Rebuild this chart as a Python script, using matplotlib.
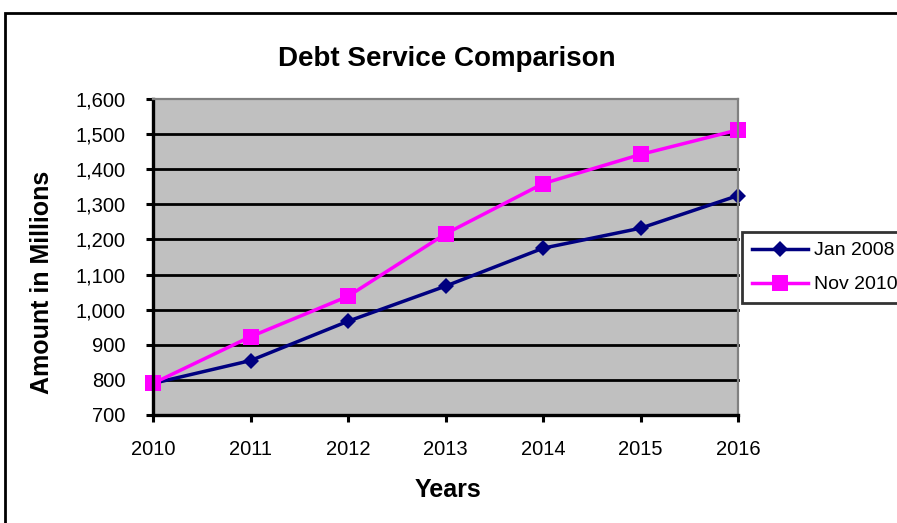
#!/usr/bin/env python3
"""Debt service comparison line chart: Jan 2008 vs Nov 2010 projections."""

import matplotlib
matplotlib.use("Agg")
import matplotlib.pyplot as plt
from matplotlib.patches import Rectangle
from matplotlib.ticker import FuncFormatter

plt.rcParams['font.family'] = ['Liberation Sans', 'DejaVu Sans']

# Amounts in millions
years = [2010, 2011, 2012, 2013, 2014, 2015, 2016]
jan_2008 = [790, 855, 967, 1067, 1175, 1232, 1325]
nov_2010 = [790, 923, 1038, 1216, 1359, 1442, 1512]

y_ticks = list(range(700, 1601, 100))

NAVY = '#000080'
MAGENTA = '#FF00FF'

fig = plt.figure(figsize=(8.97, 5.23), dpi=100)

# chart area border (runs off the right and bottom edges)
fig.patches.append(Rectangle((5 / 897, -0.2), 1.5, 1.2 - 13 / 523,
                             transform=fig.transFigure, fill=False,
                             edgecolor='black', linewidth=2.0))

ax = fig.add_axes([153 / 897, 1 - 415 / 523, (738 - 153) / 897, (415 - 99) / 523])
ax.set_facecolor('#C0C0C0')

ax.plot(years, jan_2008, color=NAVY, linewidth=2.5, marker='D',
        markersize=8.5, markeredgewidth=0, label='Jan 2008', zorder=4)
ax.plot(years, nov_2010, color=MAGENTA, linewidth=2.5, marker='s',
        markersize=11.5, markeredgewidth=0, label='Nov 2010', zorder=5)

ax.set_xlim(years[0], years[-1])
ax.set_ylim(y_ticks[0], y_ticks[-1])
ax.set_xticks(years)
ax.set_yticks(y_ticks)
ax.yaxis.set_major_formatter(FuncFormatter(lambda v, p: f'{int(v):,}'))

for v in y_ticks[1:-1]:
    ax.axhline(v, color='black', linewidth=2.0, zorder=2)

ax.spines['left'].set_linewidth(2.4)
ax.spines['bottom'].set_linewidth(2.4)
ax.spines['top'].set_color('#808080')
ax.spines['right'].set_color('#808080')
ax.spines['top'].set_linewidth(1.6)
ax.spines['right'].set_linewidth(1.6)
for s in ax.spines.values():
    s.set_zorder(6)

ax.tick_params(axis='both', direction='out', length=5, width=2.2,
               labelsize=14.5, color='black')
ax.tick_params(axis='y', pad=15)
ax.tick_params(axis='x', pad=13)
for line in ax.lines:
    line.set_clip_on(False)

fig.text(447 / 897, 1 - 59 / 523, 'Debt Service Comparison', ha='center',
         va='center', fontsize=20, fontweight='bold')
fig.text(42 / 897, 1 - 282 / 523, 'Amount in Millions', ha='center',
         va='center', rotation=90, fontsize=18, fontweight='bold')
fig.text(448 / 897, 1 - 490 / 523, 'Years', ha='center', va='center',
         fontsize=18, fontweight='bold')

leg = fig.legend(loc='upper left', bbox_to_anchor=(742 / 897, 1 - 232 / 523),
                 fontsize=14, frameon=True, fancybox=False, handlelength=2.9,
                 handletextpad=0.3, borderpad=0.5, labelspacing=0.85,
                 borderaxespad=0)
leg.get_frame().set_edgecolor('black')
leg.get_frame().set_linewidth(2.0)

fig.savefig('out.png', dpi=100)
